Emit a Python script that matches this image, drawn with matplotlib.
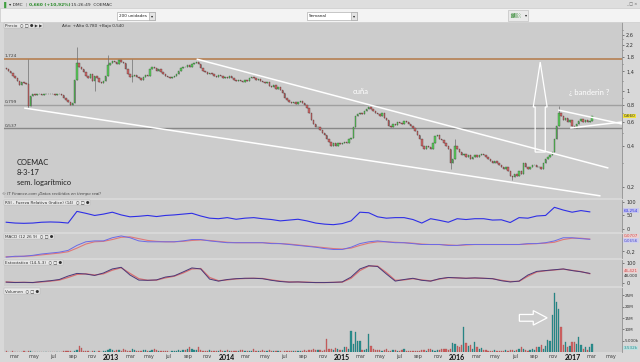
import matplotlib
matplotlib.use("Agg")
import matplotlib.pyplot as plt
import matplotlib.dates as mdates
import matplotlib.transforms as mtrans
from matplotlib.patches import Rectangle, Polygon
from matplotlib.ticker import FixedLocator
import numpy as np
import pandas as pd

# ---------------- datos ----------------
# cierre semanal COEMAC, desde 3-2-2012
cierre = [1.45, 1.40, 1.36, 1.30, 1.26, 1.20, 1.12, 1.18, 1.16, 1.14,
          0.78, 0.92,
          0.95, 0.94, 0.95, 0.95, 0.94, 0.95, 0.96, 0.95, 0.96, 0.95, 0.94, 0.95, 0.95, 0.94,
          0.90, 0.86, 0.83, 0.80,
          0.82, 1.22, 1.62, 1.50,
          1.45, 1.38, 1.30, 1.25, 1.35, 1.20, 1.30,
          1.25, 1.18, 1.15, 1.20, 1.30,
          1.55, 1.62, 1.68, 1.65, 1.60, 1.70, 1.65, 1.62,
          1.45, 1.35, 1.28, 1.30,
          1.32, 1.28, 1.25, 1.22, 1.28, 1.32, 1.30,
          1.45, 1.50, 1.48, 1.42, 1.45, 1.38,
          1.35, 1.30, 1.28, 1.25, 1.28, 1.30,
          1.35, 1.40, 1.48, 1.52, 1.50, 1.55, 1.52, 1.58,
          1.62, 1.64, 1.58,
          1.48, 1.40, 1.38, 1.35, 1.36,
          1.33, 1.30, 1.28, 1.32, 1.30, 1.25, 1.28, 1.26,
          1.30, 1.25, 1.22, 1.20, 1.22,
          1.20, 1.18, 1.22, 1.20, 1.25, 1.28, 1.25,
          1.22, 1.24, 1.20, 1.18, 1.15, 1.18,
          1.10, 1.08, 1.12, 1.05, 1.08, 1.02,
          0.98, 0.90, 0.86, 0.84,
          0.82, 0.84, 0.81, 0.83, 0.85, 0.82,
          0.80, 0.76, 0.70, 0.62, 0.58, 0.55,
          0.55, 0.52, 0.50, 0.48, 0.45,
          0.43, 0.40, 0.42, 0.40, 0.42,
          0.41, 0.42, 0.43, 0.42, 0.45, 0.46,
          0.55, 0.66, 0.68,
          0.70, 0.68, 0.72, 0.74, 0.77,
          0.74, 0.72, 0.70, 0.68, 0.66, 0.70, 0.64, 0.62,
          0.56, 0.55, 0.58,
          0.57, 0.60, 0.59, 0.58, 0.61, 0.60, 0.58, 0.56,
          0.54, 0.51, 0.48, 0.45, 0.40, 0.38,
          0.40, 0.39, 0.38, 0.42,
          0.47, 0.48, 0.45, 0.44, 0.42,
          0.40, 0.38,
          0.30, 0.32, 0.40,
          0.38, 0.36, 0.34, 0.35, 0.33,
          0.34, 0.32, 0.33, 0.34, 0.33,
          0.34, 0.35, 0.34, 0.33, 0.32,
          0.31, 0.30, 0.31, 0.30,
          0.29, 0.28, 0.27, 0.28, 0.26,
          0.24, 0.235, 0.25, 0.24,
          0.26, 0.25,
          0.30,
          0.28, 0.27, 0.28, 0.29,
          0.29, 0.28, 0.28, 0.27, 0.30,
          0.32, 0.33, 0.34,
          0.36, 0.45, 0.56, 0.70,
          0.66, 0.62, 0.64, 0.60, 0.62,
          0.56, 0.54,
          0.58, 0.61, 0.63, 0.60, 0.62, 0.60, 0.61, 0.66]
apertura_inicial = 1.48
# mechas largas visibles (semana: precio)
maximos_extra = {10: 1.72, 32: 2.10, 46: 1.85, 57: 1.72, 203: 0.45, 250: 0.78}
minimos_extra = {10: 0.75, 40: 1.00, 57: 1.18, 201: 0.27, 229: 0.225}

# volumen semanal (millones)
volumen = [0.3, 0.2, 0.2, 0.3, 0.2, 0.1, 0.2, 0.2, 0.3, 0.2,
           0.6, 0.4, 0.2, 0.1, 0.1, 0.2, 0.1, 0.1, 0.2, 0.1,
           0.1, 0.2, 0.1, 0.1, 0.2, 0.1, 0.3, 0.3, 0.4, 0.3,
           0.2, 0.6, 1.0,
           2.8, 1.6, 0.6, 0.4, 0.3, 0.2, 0.4, 0.3, 0.2, 0.3, 0.2, 0.3, 0.5,
           1.0, 1.2, 0.8, 0.6, 1.1, 0.7, 0.5, 1.3, 0.8, 0.6, 0.4, 1.2, 0.7, 0.5, 0.6,
           0.5, 0.8, 1.1, 0.6, 0.4, 0.9, 1.2, 0.7, 0.5, 0.3, 0.4, 0.6, 0.3, 0.2, 0.4, 0.6, 0.5, 0.8,
           0.5, 0.8, 1.0, 1.5, 2.4, 1.2, 0.8, 1.0, 2.2, 0.9,
           0.6, 0.4, 0.5, 0.8, 0.4, 0.3, 0.5, 0.6, 0.7, 0.4, 0.5,
           0.9, 0.6, 0.4, 0.5, 0.3, 0.6, 0.8, 1.0, 0.5, 0.4, 0.6,
           0.5, 1.5, 0.6, 0.4, 0.5, 0.7, 0.3, 0.4, 0.8, 0.5,
           0.3, 0.4, 0.6, 0.3, 0.2, 0.5, 0.4, 0.3, 0.6, 0.4,
           0.5, 0.3, 0.4, 0.6, 0.8, 0.5, 0.7, 0.9, 1.2, 0.8,
           0.8, 1.0, 0.6, 0.8, 5.8, 1.5, 1.5, 0.8, 1.7, 1.2,
           0.8, 1.0, 2.0, 2.0, 1.5, 9.3, 3.5, 8.7, 5.0, 4.8,
           1.0, 0.8, 1.2, 7.8, 2.5, 1.5, 0.8, 1.0, 0.8, 0.6,
           0.8, 1.2, 0.6, 0.5, 0.8, 1.0, 0.4, 0.5, 0.7, 1.2,
           0.5, 0.3, 0.4, 0.6, 0.3, 0.5, 0.4, 1.0, 0.8, 0.6,
           1.5, 1.2, 0.8, 0.5, 0.7, 1.0, 1.5, 1.2,
           1.2, 1.0, 1.5, 4.0, 3.5, 2.5, 2.0, 3.0, 11.0, 4.0,
           2.5, 3.0, 1.5, 4.5, 2.0, 1.2, 1.8,
           1.0, 0.8, 0.6, 0.4, 0.5, 0.7, 0.3, 0.5, 0.4, 0.6,
           0.8, 0.5, 1.0, 0.7, 0.6, 0.8, 1.5, 2.0, 1.2, 0.8,
           0.6, 1.0, 1.5, 0.8, 2.0,
           2.0, 3.0, 1.2, 2.5, 5.5, 5.0, 16.2, 26.3, 22.0, 18.8,
           11.0, 3.0, 4.5, 2.0, 2.5, 4.5, 4.5, 3.5, 6.5, 3.0,
           1.5, 2.0, 1.0, 2.0, 3.532]

# indicadores, un valor cada 4 semanas
rsi = [25, 22, 21, 22, 25, 26, 25, 22, 65, 58,
       50, 55, 62, 52, 45, 47, 50, 46, 50, 52,
       55, 58, 48, 40, 38, 42, 36, 40, 42, 38,
       35, 30, 33, 36, 30, 22, 18, 16, 20, 30,
       62, 60, 45, 40, 42, 42, 35, 22, 38, 32,
       25, 38, 35, 38, 38, 33, 34, 24, 42, 40,
       48, 50, 80, 70, 62, 68, 63.254]
macd = [-0.33, -0.31, -0.31, -0.29, -0.26, -0.24, -0.22, -0.18, -0.07, 0.01,
        0.03, 0.03, 0.10, 0.14, 0.10, 0.03, 0.01, 0.01, 0.01, 0.01,
        0.03, 0.06, 0.06, 0.03, 0.01, -0.01, -0.01, -0.01, -0.01, -0.01,
        -0.03, -0.03, -0.05, -0.07, -0.09, -0.11, -0.14, -0.16, -0.16, -0.11,
        -0.03, 0.01, 0.03, 0.01, -0.01, -0.01, -0.03, -0.05, -0.05, -0.05,
        -0.07, -0.07, -0.05, -0.05, -0.05, -0.05, -0.05, -0.05, -0.05, -0.03,
        -0.03, -0.01, 0.03, 0.10, 0.10, 0.08, 0.0656]
senal = [-0.32, -0.32, -0.31, -0.30, -0.28, -0.26, -0.24, -0.21, -0.13, -0.04,
         0.01, 0.02, 0.06, 0.11, 0.12, 0.08, 0.04, 0.02, 0.01, 0.01,
         0.02, 0.04, 0.05, 0.04, 0.02, 0.0, -0.01, -0.01, -0.01, -0.01,
         -0.02, -0.03, -0.04, -0.06, -0.08, -0.10, -0.12, -0.14, -0.15, -0.13,
         -0.07, -0.02, 0.01, 0.01, 0.0, -0.01, -0.02, -0.04, -0.05, -0.05,
         -0.06, -0.07, -0.06, -0.05, -0.05, -0.05, -0.05, -0.05, -0.05, -0.04,
         -0.03, -0.02, 0.0, 0.06, 0.09, 0.09, 0.0707]
estoc_k = [5, 3, 4, 3, 8, 12, 18, 35, 48, 45,
           38, 50, 70, 78, 40, 15, 14, 16, 30, 36,
           55, 75, 70, 20, 10, 18, 22, 24, 24, 22,
           14, 8, 5, 6, 4, 3, 3, 4, 6, 30,
           70, 86, 82, 45, 10, 18, 24, 14, 10, 22,
           28, 26, 24, 26, 24, 22, 12, 6, 10, 40,
           58, 62, 66, 70, 62, 56, 48.0]
estoc_d = [6, 4, 4, 3, 6, 10, 15, 28, 43, 46,
           40, 46, 64, 76, 48, 22, 14, 15, 26, 34,
           50, 70, 72, 28, 12, 16, 21, 23, 24, 23,
           16, 10, 6, 6, 5, 3, 3, 4, 5, 24,
           62, 84, 84, 52, 14, 16, 22, 16, 11, 20,
           27, 26, 24, 25, 24, 22, 14, 8, 9, 34,
           55, 61, 65, 69, 63, 57, 46.421]

# niveles horizontales
niveles = [1.724, 0.799, 0.537]
# lineas dibujadas a mano (fecha, precio)
cuna_sup = (['2013-09-28', '2017-04-24'], [1.724, 0.275])
cuna_inf = (['2012-03-31', '2017-03-30'], [0.756, 0.172])
band_sup = (['2016-11-16', '2017-06-06'], [0.731, 0.578])
band_inf = (['2016-12-24', '2017-06-06'], [0.540, 0.597])
flecha_precio = (['2016-09-04', '2016-10-06', '2016-10-06', '2016-10-12', '2016-09-20',
                  '2016-08-29', '2016-09-04'],
                 [0.36, 0.36, 0.769, 0.769, 1.64, 0.769, 0.769])
flecha_vol = (['2016-07-16', '2016-08-29', '2016-08-29', '2016-10-12', '2016-08-29',
               '2016-08-29', '2016-07-16'],
              [13.6, 13.6, 11.9, 15.1, 18.3, 16.6, 16.6])

# ---------------- figura ----------------
W, H = 640, 362
fig = plt.figure(figsize=(6.4, 3.62), dpi=100)
fig.patch.set_facecolor('#d8d8d8')
plt.rcParams['font.family'] = ['DejaVu Sans']

def caja(l, t, r, b):
    return [l / W, 1 - b / H, (r - l) / W, (b - t) / H]

def px(x, y):
    return x / W, 1 - y / H

fondo = '#cccccc'
fechas = pd.date_range('2012-02-03', periods=len(cierre), freq='7D')
xd = mdates.date2num(fechas)
xi = xd[::4]
x0 = mdates.date2num(pd.Timestamp('2012-01-27'))
x1 = mdates.date2num(pd.Timestamp('2017-06-06'))

ax_p = fig.add_axes(caja(4, 22, 622, 198))
ax_r = fig.add_axes(caja(4, 200, 622, 232), sharex=ax_p)
ax_m = fig.add_axes(caja(4, 234, 622, 258), sharex=ax_p)
ax_e = fig.add_axes(caja(4, 260, 622, 286), sharex=ax_p)
ax_v = fig.add_axes(caja(4, 288, 622, 352), sharex=ax_p)

for ax in [ax_p, ax_r, ax_m, ax_e, ax_v]:
    ax.set_facecolor(fondo)
    for s in ['top', 'left', 'bottom']:
        ax.spines[s].set_visible(False)
    ax.spines['right'].set_color('#909090')
    ax.spines['right'].set_linewidth(0.6)
    ax.yaxis.tick_right()
    ax.tick_params(axis='y', labelsize=3.6, length=1.5, width=0.4, pad=1.5,
                   colors='#303030', which='both')
    ax.tick_params(axis='y', which='minor', length=1)
    ax.tick_params(axis='x', which='both', length=0, labelbottom=False)
    ax.set_xlim(x0, x1)

def valor_caja(ax, y, txt, fc, color):
    tr = mtrans.blended_transform_factory(ax.transAxes, ax.transData)
    ax.text(1.003, y, txt, transform=tr, fontsize=3.0, color=color, va='center', ha='left',
            bbox=dict(fc=fc, ec='none', pad=0.3), clip_on=False)

# --------- precio (velas) ---------
c = np.array(cierre)
o = np.array([apertura_inicial] + cierre[:-1])
hi = np.maximum(o, c)
lo = np.minimum(o, c)
for k, v in maximos_extra.items():
    hi[k] = v
for k, v in minimos_extra.items():
    lo[k] = v
sube = c >= o
ax_p.set_yscale('log')
ax_p.vlines(xd, lo, hi, color='#707070', lw=0.5, zorder=2)
ax_p.bar(xd[sube], (c - o)[sube], bottom=o[sube], width=4.5, color='#5ccc5c',
         edgecolor='#2b4f2b', lw=0.25, zorder=3)
ax_p.bar(xd[~sube], (c - o)[~sube], bottom=o[~sube], width=4.5, color='#cf6a6a',
         edgecolor='#4a2a2a', lw=0.25, zorder=3)

ax_p.axhline(niveles[0], color='#b8865c', lw=1.3, zorder=1)
ax_p.axhline(niveles[1], color='#a0a0a0', lw=1.0, zorder=1)
ax_p.axhline(niveles[2], color='#888888', lw=1.0, zorder=1)
tr = mtrans.blended_transform_factory(ax_p.transAxes, ax_p.transData)
for n in niveles:
    ax_p.text(0.001, n * 1.012, ('%.3f' % n).replace('.', ','), transform=tr,
              fontsize=3.2, color='#404040', va='bottom', ha='left')

for lin in [cuna_sup, cuna_inf, band_sup, band_inf]:
    ax_p.plot(pd.to_datetime(lin[0]), lin[1], color='white', lw=1.1, zorder=4,
              solid_capstyle='butt')
fl = np.column_stack([mdates.date2num(pd.to_datetime(flecha_precio[0])), flecha_precio[1]])
ax_p.add_patch(Polygon(fl, closed=True, fill=False, ec='white', lw=0.9, zorder=4))

ax_p.set_ylim(0.166, 3.22)
tp = [0.2, 0.4, 0.6, 0.8, 1, 1.4, 1.8, 2.2, 2.6]
ax_p.yaxis.set_major_locator(FixedLocator(tp))
ax_p.yaxis.set_minor_locator(FixedLocator([0.3, 0.5, 0.7, 0.9, 1.2, 1.6, 2.0, 2.4, 2.8]))
ax_p.set_yticklabels([('%g' % t).replace('.', ',') for t in tp])
ax_p.yaxis.set_minor_formatter(plt.NullFormatter())
valor_caja(ax_p, 0.66, '0,660', '#f2e23a', '#303030')

ax_p.text(mdates.date2num(pd.Timestamp('2015-02-05')), 1.0, 'cuña', color='white',
          fontsize=5.5, family='Lato', va='center')
ax_p.text(mdates.date2num(pd.Timestamp('2016-12-20')), 0.99, '¿ banderin ?', color='white',
          fontsize=5.5, family='Lato', va='center')
for txt, yy in [('COEMAC', 162), ('8-3-17', 172.5), ('sem. logarítmico', 183)]:
    fig.text(*px(17, yy), txt, fontsize=5.4, family='Lato', color='#202020', va='center')
fig.text(*px(2, 193.5), '© IT Finance.com ¡Datos recibidos en tiempo real!', fontsize=2.8,
         style='italic', color='#404040', va='center')

# --------- RSI ---------
ax_r.plot(xi, rsi, color='#2e2ee6', lw=0.8)
ax_r.set_ylim(-11, 107)
ax_r.set_yticks([0, 50, 100])
ax_r.set_yticklabels(['0', '50', '100'])
valor_caja(ax_r, rsi[-1] + 4, '63,254', '#c6c6ec', '#2e2ee6')

# --------- MACD ---------
ax_m.plot(xi, senal, color='#e07878', lw=0.8)
ax_m.plot(xi, macd, color='#6a6ae6', lw=0.7)
ax_m.set_ylim(-0.349, 0.183)
ax_m.set_yticks([-0.2])
ax_m.set_yticklabels(['-0,2'])
valor_caja(ax_m, 0.13, '0,0707', '#ecd0d0', '#d05050')
valor_caja(ax_m, 0.035, '0,0656', '#cfcfee', '#4a4ad0')

# --------- estocastico ---------
ax_e.plot(xi, estoc_d, color='#d87070', lw=0.9)
ax_e.plot(xi, estoc_k, color='#4a3a7a', lw=0.7)
ax_e.set_ylim(-14, 114)
ax_e.set_yticks([0, 100])
ax_e.set_yticklabels(['0', '100'])
valor_caja(ax_e, 61, '46,421', '#ecd0d0', '#d05050')
valor_caja(ax_e, 36, '48,000', '#d8d8d8', '#303030')

# --------- volumen ---------
vol = np.array(volumen)
ax_v.bar(xd[sube], vol[sube], width=4.0, color='#2a8f8f', edgecolor='#1f6f6f', lw=0.2)
ax_v.bar(xd[~sube], vol[~sube], width=4.0, color='#d26262', edgecolor='#a04848', lw=0.2)
fv = np.column_stack([mdates.date2num(pd.to_datetime(flecha_vol[0])), flecha_vol[1]])
ax_v.add_patch(Polygon(fv, closed=True, fill=False, ec='white', lw=0.9, zorder=4))
ax_v.set_ylim(0, 28.3)
ax_v.set_yticks([5, 10, 15, 20, 25])
ax_v.set_yticklabels(['5.000k', '10M', '15M', '20M', '25M'])
ax_v.tick_params(axis='y', labelsize=3.0, pad=0.8, length=1.2)
valor_caja(ax_v, 1.8, '3.532k', '#bfe0e0', '#2a8f8f')

meses = pd.date_range('2012-03-01', '2017-05-01', freq='2MS')
nombres = {1: '', 3: 'mar', 5: 'may', 7: 'jul', 9: 'sep', 11: 'nov'}
ax_v.xaxis.set_major_locator(FixedLocator(mdates.date2num(meses)))
ax_v.set_xticklabels([str(m.year) if m.month == 1 else nombres[m.month] for m in meses])
ax_v.tick_params(axis='x', labelbottom=True, labelsize=3.6, pad=1.5, colors='#404040')
for lab, m in zip(ax_v.get_xticklabels(), meses):
    if m.month == 1:
        lab.set_fontsize(5)
        lab.set_color('#101010')
        lab.set_family('Lato')
        lab.set_weight('bold')

# --------- cabeceras de paneles ---------
iconos = '  \u25cb \u25a1 \u25cf'

def cabecera(y, txt, x_txt=5):
    fig.text(*px(x_txt, y), txt, fontsize=3.0, color='#303030', va='center',
             bbox=dict(fc='#e8e8e8', ec='#b0b0b0', lw=0.3, pad=0.6))

cabecera(25.5, 'Precio' + iconos + ' \u25b6 \u25b6')
fig.text(*px(62, 25.5), 'Año: +Alto 0,780 +Bajo 0,540', fontsize=3.0, color='#303030',
         va='center')
cabecera(202.5, 'RSI - Fuerza Relativa (índice) (14)' + iconos)
cabecera(236.5, 'MACD (12 26 9)' + iconos)
cabecera(262.5, 'Estocástico (14-5-3)' + iconos)
cabecera(291, 'Volumen' + iconos)

# --------- barra de titulo y herramientas ---------
fig.patches.append(Rectangle(px(0, 8), 1, 8 / H, transform=fig.transFigure,
                             fc='#dedede', ec='none'))
fig.patches.append(Rectangle(px(0, 22), 1, 14 / H, transform=fig.transFigure,
                             fc='#f3f3f3', ec='#c8c8c8', lw=0.4))
fig.text(*px(2, 4.5), '\u2590', fontsize=4, color='#40a040', va='center')
fig.text(*px(9, 4.5), '\u25be DMC', fontsize=3.2, color='#303030', va='center')
fig.text(*px(25, 4.5), '|', fontsize=3.2, color='#808080', va='center')
fig.text(*px(29, 4.5), '0,660 (+10,92%)', fontsize=3.2, color='#2a8a2a', va='center',
         weight='bold')
fig.text(*px(71, 4.5), '15:26:49  COEMAC', fontsize=3.2, color='#303030', va='center')
fig.text(*px(626, 4.5), '_ \u25a1 \u00d7', fontsize=2.8, color='#606060', va='center')

for (l, r, txt) in [(117, 155, '200 unidades'), (307, 357, 'Semanal')]:
    fig.patches.append(Rectangle(px(l, 20), (r - l) / W, 8 / H, transform=fig.transFigure,
                                 fc='white', ec='#a0a0a0', lw=0.4))
    fig.patches.append(Rectangle(px(r - 6, 20), 6 / W, 8 / H, transform=fig.transFigure,
                                 fc='#e4e4e4', ec='#a0a0a0', lw=0.4))
    fig.text(*px(l + 2, 16), txt, fontsize=3.0, color='#202020', va='center')
    fig.text(*px(r - 4.5, 16), '\u25be', fontsize=3.0, color='#202020', va='center')
fig.patches.append(Rectangle(px(508, 21), 20 / W, 11 / H, transform=fig.transFigure,
                             fc='#eaeaea', ec='#b8b8b8', lw=0.4))
fig.text(*px(510, 15.5), '\u2593\u2592\u2591', fontsize=3.5, color='#60a060', va='center')
fig.text(*px(525, 15.5), '\u25be', fontsize=3.0, color='#202020', va='center')

fig.savefig('out.png', dpi=100, facecolor=fig.get_facecolor())
